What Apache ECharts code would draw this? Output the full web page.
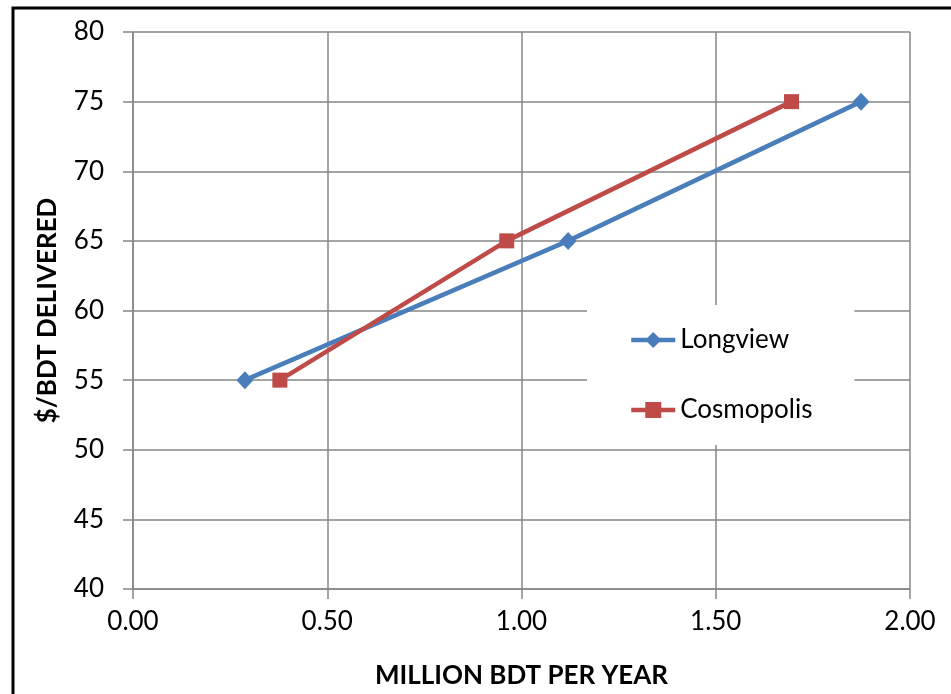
<!DOCTYPE html>
<html>
<head>
<meta charset="utf-8">
<style>
  html, body { margin: 0; padding: 0; background: #fff; }
  #chart { width: 951px; height: 694px; }
</style>
<script src="https://cdn.jsdelivr.net/npm/echarts@6/dist/echarts.min.js"></script>
</head>
<body>
<div id="chart"></div>
<script>
// Delivered cost curves: annual supply (million BDT) vs. $/BDT delivered
const seriesNames = ['Longview', 'Cosmopolis'];
const longviewVolume = [0.288, 1.120, 1.874];
const longviewPrice = [55, 65, 75];
const cosmopolisVolume = [0.378, 0.962, 1.695];
const cosmopolisPrice = [55, 65, 75];
const xTicks = [0, 0.5, 1.0, 1.5, 2.0];
const yTicks = [40, 45, 50, 55, 60, 65, 70, 75, 80];

const FONT = 'Lato, "Open Sans", sans-serif';
const AXIS_GRAY = '#868686';
const BLUE = '#4A7EBB';
const RED = '#BE4B48';

const pairs = (xs, ys) => xs.map((x, i) => [x, ys[i]]);

const chart = echarts.init(document.getElementById('chart'), null, { renderer: 'canvas' });

chart.setOption({
  animation: false,
  backgroundColor: '#fff',
  textStyle: { fontFamily: FONT },
  grid: { left: 133, top: 32, right: 41, bottom: 102, containLabel: false },
  xAxis: {
    type: 'value',
    min: xTicks[0],
    max: xTicks[xTicks.length - 1],
    interval: xTicks[1] - xTicks[0],
    name: 'MILLION BDT PER YEAR',
    nameLocation: 'middle',
    nameGap: 74,
    nameTextStyle: { fontFamily: FONT, fontSize: 26, fontWeight: 'bold', color: '#000' },
    axisLine: { show: true, lineStyle: { color: AXIS_GRAY, width: 1.5 } },
    axisTick: { show: true, inside: false, length: 10, lineStyle: { color: AXIS_GRAY, width: 1.5 } },
    axisLabel: {
      margin: 20, fontSize: 26, color: '#000', fontFamily: FONT,
      formatter: v => v.toFixed(2)
    },
    splitLine: { show: true, lineStyle: { color: AXIS_GRAY, width: 1.5 } }
  },
  yAxis: {
    type: 'value',
    min: yTicks[0],
    max: yTicks[yTicks.length - 1],
    interval: yTicks[1] - yTicks[0],
    name: '$/BDT DELIVERED',
    nameLocation: 'middle',
    nameRotate: 90,
    nameGap: 72,
    nameTextStyle: { fontFamily: FONT, fontSize: 26, fontWeight: 'bold', color: '#000' },
    axisLine: { show: true, lineStyle: { color: AXIS_GRAY, width: 1.5 } },
    axisTick: { show: true, inside: false, length: 10, lineStyle: { color: AXIS_GRAY, width: 1.5 } },
    axisLabel: { margin: 29, fontSize: 26, color: '#000', fontFamily: FONT },
    splitLine: { show: true, lineStyle: { color: AXIS_GRAY, width: 1.5 } }
  },
  legend: {
    orient: 'vertical',
    left: 587,
    top: 305,
    backgroundColor: '#fff',
    padding: [20, 42, 20, 42],
    itemGap: 40,
    itemWidth: 44,
    itemHeight: 20,
    lineStyle: { width: 4.5 },
    textStyle: { fontFamily: FONT, fontSize: 26, color: '#000', lineHeight: 30 },
    data: seriesNames
  },
  series: [
    {
      name: seriesNames[0],
      type: 'line',
      data: pairs(longviewVolume, longviewPrice),
      symbol: 'diamond',
      symbolSize: [17, 18],
      color: BLUE,
      lineStyle: { color: BLUE, width: 4.5 },
      itemStyle: { color: BLUE },
      z: 3
    },
    {
      name: seriesNames[1],
      type: 'line',
      data: pairs(cosmopolisVolume, cosmopolisPrice),
      symbol: 'rect',
      symbolSize: 15,
      color: RED,
      lineStyle: { color: RED, width: 4.5 },
      itemStyle: { color: RED },
      z: 3
    }
  ],
  graphic: [
    {
      type: 'rect',
      silent: true,
      z: 100,
      shape: { x: 13, y: 8, width: 1000, height: 1000 },
      style: { fill: 'none', stroke: '#000', lineWidth: 3 }
    }
  ]
});
</script>
</body>
</html>
